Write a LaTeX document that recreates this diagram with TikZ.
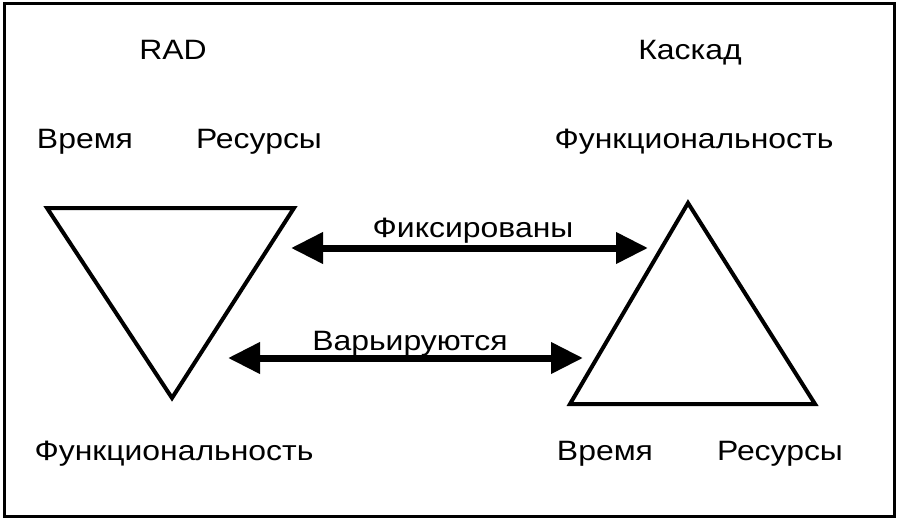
\documentclass[tikz,border=0pt]{standalone}
\usepackage{fontspec}
\setmainfont{Liberation Sans}[FakeStretch=1.14]
\usetikzlibrary{arrows.meta,positioning}

\begin{document}
\begin{tikzpicture}[x=1pt,y=-1pt,
                    word/.style={inner sep=0pt,anchor=base,font=\fontsize{28}{32}\selectfont},
                    tri/.style={draw,line width=4pt,line join=miter},
                    both way/.style={{Triangle[length=32pt,width=30pt]}-{Triangle[length=32pt,width=30pt]},line width=7pt}]

  \useasboundingbox (0,0) rectangle (912,524);
  \draw[line width=3pt] (4,4) rectangle (894,516);

  % left side: RAD
  \node[word] (rad) at (173,60) {RAD};
  \node[word] (timeL) at (85,148) {Время};
  \node[word] (resL) at (259,148) {Ресурсы};
  \node[word] (funcL) at (174,460) {Функциональность};

  % right side: waterfall
  \node[word] (casc) at (690,60) {Каскад};
  \node[word] (funcR) at (694,148) {Функциональность};
  \node[word] (timeR) at (605,460) {Время};
  \node[word] (resR) at (780,460) {Ресурсы};

  % triangles
  \draw[tri] (47,208) -- (294,208) -- (172,398) -- cycle;
  \draw[tri] (688,203) -- (815,404) -- (570,404) -- cycle;

  % arrows
  \coordinate (fixA) at (291,248);
  \coordinate (fixB) at (648,248);
  \coordinate (varA) at (228,358);
  \coordinate (varB) at (583,358);

  \draw[both way] (fixA) -- (fixB);
  \draw[both way] (varA) -- (varB);

  \node[word] (fix) at (473,237) {Фиксированы};
  \node[word] (var) at (410,350) {Варьируются};

\end{tikzpicture}
\end{document}
